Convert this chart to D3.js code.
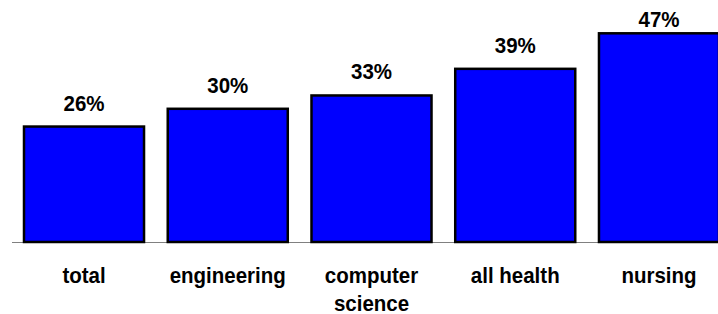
<!DOCTYPE html>
<html>
<head>
<meta charset="utf-8">
<script src="https://cdn.jsdelivr.net/npm/d3@7"></script>
<style>
  html, body { margin: 0; padding: 0; background: #fff; }
  svg { display: block; }
</style>
</head>
<body>
<div id="chart"></div>
<script>
// ── Data ─────────────────────────────────────────────────────────────────────
const categories = ['total', 'engineering', 'computer science', 'all health', 'nursing'];
const values = [26, 30, 33, 39, 47];
const categoryLines = [['total'], ['engineering'], ['computer', 'science'], ['all health'], ['nursing']];

const width = 718;
const height = 314;
const baseY = 242;
const font = 'Liberation Sans, Arial, sans-serif';
const stretchY = 1.07; // the glyphs in the reference are a little taller than wide

const svg = d3.select('#chart')
  .append('svg')
  .attr('width', width)
  .attr('height', height)
  .style('font-family', font);

// ── Scales ───────────────────────────────────────────────────────────────────
const x = d3.scaleBand()
  .domain(categories)
  .range([24, 719])
  .paddingInner(0.165)
  .paddingOuter(0);

const y = d3.scaleLinear()
  .domain([0, 54.5])
  .range([baseY, 0]);

// ── Baseline ─────────────────────────────────────────────────────────────────
svg.append('line')
  .attr('x1', 12).attr('x2', width)
  .attr('y1', baseY + 0.5).attr('y2', baseY + 0.5)
  .attr('stroke', '#808080')
  .attr('stroke-width', 1);

// ── Bars ─────────────────────────────────────────────────────────────────────
svg.selectAll('rect.bar')
  .data(categories)
  .join('rect')
  .attr('class', 'bar')
  .attr('x', d => x(d))
  .attr('y', (d, i) => y(values[i]))
  .attr('width', x.bandwidth())
  .attr('height', (d, i) => baseY - y(values[i]))
  .attr('fill', '#0000ff')
  .attr('stroke', '#000')
  .attr('stroke-width', 2.5);

// ── Value labels ─────────────────────────────────────────────────────────────
// tallest label gets pushed down so it stays inside the frame
svg.selectAll('text.value')
  .data(categories)
  .join('text')
  .attr('class', 'value')
  .attr('transform', (d, i) =>
    `translate(${x(d) + x.bandwidth() / 2},${Math.max(y(values[i]) - 16, 26.5)}) scale(1,${stretchY})`)
  .attr('text-anchor', 'middle')
  .attr('font-size', '20.5px')
  .attr('font-weight', 'bold')
  .attr('fill', '#000')
  .text((d, i) => values[i] + '%');

// ── Category labels ──────────────────────────────────────────────────────────
categories.forEach((c, i) => {
  const cx = x(c) + x.bandwidth() / 2;
  categoryLines[i].forEach((line, j) => {
    svg.append('text')
      .attr('transform', `translate(${cx},${283 + j * 27.5}) scale(1,${stretchY})`)
      .attr('text-anchor', 'middle')
      .attr('font-size', '20.5px')
      .attr('font-weight', 'bold')
      .attr('fill', '#000')
      .text(line);
  });
});
</script>
</body>
</html>
